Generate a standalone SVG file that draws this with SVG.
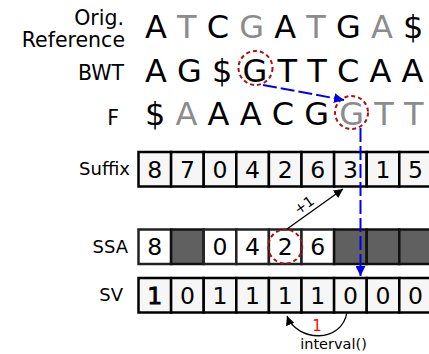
<svg xmlns="http://www.w3.org/2000/svg" width="429" height="354" viewBox="0 0 429 354">
  <defs>
    <style>
      text { font-family: "DejaVu Sans", sans-serif; }
      .lbl { font-size: 20.5px; text-anchor: end; fill: #000; }
      .lbl2 { font-size: 18px; text-anchor: end; fill: #000; }
      .seq { font-size: 32px; fill: #000; }
      .g { fill: #8c8c8c; }
      .cell { fill: #f6f6f6; stroke: #000; stroke-width: 2.5; }
      .cellw { fill: #fff; stroke: #222; stroke-width: 2.5; }
      .cellg { fill: #606060; stroke: #111; stroke-width: 2.5; }
      .num { font-size: 23.5px; text-anchor: middle; fill: #000; }
      .ring { fill: none; stroke: #aa1111; stroke-width: 2; stroke-dasharray: 4 3; }
      .blue { fill: none; stroke: #0000ee; stroke-width: 2; stroke-dasharray: 14 4; }
      .thin { fill: none; stroke: #000; stroke-width: 1.3; }
    </style>
    <marker id="bluehead" viewBox="0 0 10 10" refX="10" refY="5" markerWidth="5" markerHeight="5" orient="auto" markerUnits="strokeWidth">
      <path d="M0,0 L10,5 L0,10 z" fill="#0000ee"/>
    </marker>
    <marker id="blackhead" viewBox="0 0 10 10" refX="10" refY="5" markerWidth="7" markerHeight="7" orient="auto" markerUnits="strokeWidth">
      <path d="M0,0 L10,5 L0,10 z" fill="#000"/>
    </marker>
  </defs>

  <!-- sequence rows -->
  <g id="orig">
    <text class="lbl" x="124" y="24.5">Orig.</text>
    <text class="lbl" x="125" y="46.5">Reference</text>
    <text class="seq" x="145" y="38" xml:space="preserve">A <tspan class="g">T</tspan> C <tspan class="g">G</tspan> A <tspan class="g">T</tspan> G <tspan class="g">A</tspan> $</text>
  </g>
  <g id="bwt">
    <text class="lbl" x="124" y="80">BWT</text>
    <text class="seq" x="145" y="81.5" xml:space="preserve">A G $ G T T C A A</text>
    <circle class="ring" cx="255.5" cy="68" r="17"/>
  </g>
  <g id="f">
    <text class="lbl" x="119" y="125">F</text>
    <text class="seq" x="145" y="125" xml:space="preserve">$ <tspan class="g">A</tspan> A A C G <tspan class="g">G</tspan> <tspan class="g">T</tspan> <tspan class="g">T</tspan></text>
    <circle class="ring" cx="351.5" cy="112.5" r="16.5"/>
  </g>

  <!-- suffix array -->
  <g id="suffix">
    <text class="lbl2" x="130" y="175">Suffix</text>
    <rect class="cell" x="138.5" y="152" width="32.6" height="34.5"/>
    <rect class="cell" x="171.1" y="152" width="32.6" height="34.5"/>
    <rect class="cell" x="203.7" y="152" width="32.6" height="34.5"/>
    <rect class="cell" x="236.3" y="152" width="32.6" height="34.5"/>
    <rect class="cell" x="268.9" y="152" width="32.6" height="34.5"/>
    <rect class="cell" x="301.5" y="152" width="32.6" height="34.5"/>
    <rect class="cell" x="334.1" y="152" width="32.6" height="34.5"/>
    <rect class="cell" x="366.7" y="152" width="32.6" height="34.5"/>
    <rect class="cell" x="399.3" y="152" width="32.6" height="34.5"/>
    <text class="num" x="154.8" y="177.5">8</text>
    <text class="num" x="187.4" y="177.5">7</text>
    <text class="num" x="220" y="177.5">0</text>
    <text class="num" x="252.6" y="177.5">4</text>
    <text class="num" x="285.2" y="177.5">2</text>
    <text class="num" x="317.8" y="177.5">6</text>
    <text class="num" x="350.4" y="177.5">3</text>
    <text class="num" x="383" y="177.5">1</text>
    <text class="num" x="415.6" y="177.5">5</text>
  </g>

  <!-- sampled suffix array -->
  <g id="ssa">
    <text class="lbl2" x="128" y="253">SSA</text>
    <rect class="cellw" x="138.5" y="229.5" width="32.6" height="34.5"/>
    <rect class="cellg" x="171.1" y="229.5" width="32.6" height="34.5"/>
    <rect class="cellw" x="203.7" y="229.5" width="32.6" height="34.5"/>
    <rect class="cellw" x="236.3" y="229.5" width="32.6" height="34.5"/>
    <rect class="cellw" x="268.9" y="229.5" width="32.6" height="34.5"/>
    <rect class="cellw" x="301.5" y="229.5" width="32.6" height="34.5"/>
    <rect class="cellg" x="334.1" y="229.5" width="32.6" height="34.5"/>
    <rect class="cellg" x="366.7" y="229.5" width="32.6" height="34.5"/>
    <rect class="cellg" x="399.3" y="229.5" width="32.6" height="34.5"/>
    <text class="num" x="154.8" y="255">8</text>
    <text class="num" x="220" y="255">0</text>
    <text class="num" x="252.6" y="255">4</text>
    <text class="num" x="285.2" y="255">2</text>
    <text class="num" x="317.8" y="255">6</text>
    <circle class="ring" cx="285.2" cy="246.5" r="17"/>
  </g>

  <!-- sample vector -->
  <g id="sv">
    <text class="lbl2" x="123" y="301">SV</text>
    <rect class="cell" x="138.5" y="278" width="32.6" height="34.5"/>
    <rect class="cell" x="171.1" y="278" width="32.6" height="34.5"/>
    <rect class="cell" x="203.7" y="278" width="32.6" height="34.5"/>
    <rect class="cell" x="236.3" y="278" width="32.6" height="34.5"/>
    <rect class="cell" x="268.9" y="278" width="32.6" height="34.5"/>
    <rect class="cell" x="301.5" y="278" width="32.6" height="34.5"/>
    <rect class="cell" x="334.1" y="278" width="32.6" height="34.5"/>
    <rect class="cell" x="366.7" y="278" width="32.6" height="34.5"/>
    <rect class="cell" x="399.3" y="278" width="32.6" height="34.5"/>
    <text class="num" x="154.8" y="303.5" stroke="#000" stroke-width="0.9">1</text>
    <text class="num" x="187.4" y="303.5">0</text>
    <text class="num" x="220" y="303.5">1</text>
    <text class="num" x="252.6" y="303.5">1</text>
    <text class="num" x="285.2" y="303.5">1</text>
    <text class="num" x="317.8" y="303.5">1</text>
    <text class="num" x="350.4" y="303.5">0</text>
    <text class="num" x="383" y="303.5">0</text>
    <text class="num" x="415.6" y="303.5">0</text>
  </g>

  <!-- connectors -->
  <g id="connectors">
    <line class="blue" x1="263" y1="85" x2="344" y2="100" marker-end="url(#bluehead)"/>
    <line class="blue" x1="360.5" y1="128" x2="360.5" y2="276" marker-end="url(#bluehead)"/>
    <line class="thin" x1="287" y1="229" x2="343" y2="189" marker-end="url(#blackhead)"/>
    <text x="304" y="210" font-size="14" text-anchor="middle" transform="rotate(-36 304 205)">+1</text>
    <path class="thin" d="M347,312 C342,344 297,342 287,316" marker-end="url(#blackhead)"/>
    <text x="317" y="331" font-size="15" text-anchor="middle" fill="#ff0000">1</text>
    <text x="333.5" y="348.5" font-size="14.5" text-anchor="middle">interval()</text>
  </g>
</svg>
